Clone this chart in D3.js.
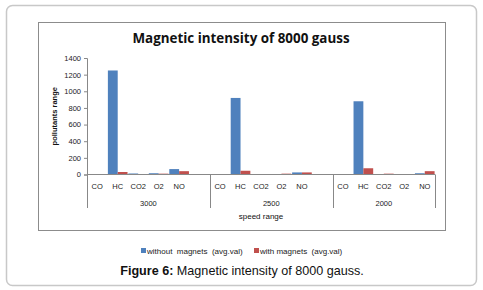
<!DOCTYPE html>
<html>
<head>
<meta charset="utf-8">
<script src="https://cdn.jsdelivr.net/npm/d3@7"></script>
<style>
  body { margin: 0; background: #fff; }
  svg text { font-family: "Liberation Sans", Arial, sans-serif; }
</style>
</head>
<body>
<div id="chart"></div>
<script>
// data
var speeds = ["3000", "2500", "2000"];
var pollutants = ["CO", "HC", "CO2", "O2", "NO"];
var withoutMagnets = [
  [0, 1250, 12, 15, 65],
  [0, 920, 0, 0, 25],
  [0, 880, 0, 0, 15]
];
var withMagnets = [
  [0, 30, 0, 10, 40],
  [0, 45, 0, 10, 25],
  [0, 75, 10, 0, 40]
];
var yTicks = [0, 200, 400, 600, 800, 1000, 1200, 1400];
var seriesNames = ["without  magnets  (avg.val)", "with magnets  (avg.val)"];
var seriesColors = ["#4F81BD", "#C0504D"];

var W = 483, H = 290;
var svg = d3.select("#chart").append("svg")
  .attr("width", W).attr("height", H);

// outer rounded frame
svg.append("rect")
  .attr("x", 6.5).attr("y", 5.5).attr("width", 470).attr("height", 280)
  .attr("rx", 6).attr("fill", "#fff").attr("stroke", "#c8c8c8").attr("stroke-width", 1.5);

// chart area border
svg.append("rect")
  .attr("x", 38.5).attr("y", 22.5).attr("width", 407).attr("height", 208)
  .attr("fill", "#fff").attr("stroke", "#8c8c8c");

svg.append("text")
  .attr("x", 241).attr("y", 43)
  .attr("text-anchor", "middle")
  .style("font-family", "'Open Sans', sans-serif")
  .style("font-weight", "bold")
  .style("font-size", "13.4px")
  .attr("fill", "#111")
  .text("Magnetic intensity of 8000 gauss");

// categories: each speed group has the 5 pollutants plus one empty slot (not the last)
var cats = [];
speeds.forEach(function(s, i) {
  pollutants.forEach(function(p, j) {
    cats.push({ key: s + "|" + p, speed: s, name: p, vals: [withoutMagnets[i][j], withMagnets[i][j]] });
  });
  if (i < speeds.length - 1) cats.push({ key: s + "|gap", speed: s, name: "", vals: [0, 0] });
});

var plotLeft = 87, plotRight = 435, plotTop = 58, plotBottom = 174.5;

var x = d3.scaleBand()
  .domain(cats.map(function(d) { return d.key; }))
  .range([plotLeft, plotRight])
  .paddingInner(0.04).paddingOuter(0.02);

var xs = d3.scaleBand()
  .domain([0, 1])
  .range([0, x.bandwidth()]);

var y = d3.scaleLinear()
  .domain([0, 1400])
  .range([plotBottom, plotTop]);

// y axis
var yAxis = svg.append("g")
  .attr("transform", "translate(" + plotLeft + ",0)")
  .call(d3.axisLeft(y).tickValues(yTicks).tickFormat(d3.format("d")).tickSize(3).tickPadding(3));
yAxis.select(".domain").attr("stroke", "#888");
yAxis.selectAll(".tick line").attr("stroke", "#888");
yAxis.selectAll("text").style("font-size", "7.5px").attr("fill", "#222");

svg.append("text")
  .attr("transform", "translate(57," + ((plotTop + plotBottom) / 2) + ") rotate(-90)")
  .attr("text-anchor", "middle")
  .style("font-weight", "bold")
  .style("font-size", "7.5px")
  .attr("fill", "#111")
  .text("pollutants range");

// bars
var groups = svg.selectAll(".cat")
  .data(cats)
  .enter().append("g")
  .attr("transform", function(d) { return "translate(" + x(d.key) + ",0)"; });

groups.selectAll("rect")
  .data(function(d) { return d.vals.map(function(v, k) { return { k: k, v: v }; }); })
  .enter().append("rect")
  .attr("x", function(d) { return xs(d.k); })
  .attr("width", xs.bandwidth())
  .attr("y", function(d) { return y(d.v); })
  .attr("height", function(d) { return plotBottom - y(d.v); })
  .attr("fill", function(d) { return seriesColors[d.k]; });

// x axis line
svg.append("line")
  .attr("x1", plotLeft).attr("x2", plotRight)
  .attr("y1", plotBottom).attr("y2", plotBottom)
  .attr("stroke", "#888");

// category labels
groups.append("text")
  .attr("x", x.bandwidth() / 2)
  .attr("y", 189)
  .attr("text-anchor", "middle")
  .style("font-size", "7.5px")
  .attr("fill", "#222")
  .text(function(d) { return d.name; });

// group dividers and labels
var groupEdges = speeds.map(function(s) {
  var keys = cats.filter(function(c) { return c.speed === s; });
  var first = x(keys[0].key) - x.step() * x.paddingInner() / 2;
  var last = x(keys[keys.length - 1].key) + x.bandwidth() + x.step() * x.paddingInner() / 2;
  return { speed: s, x0: Math.max(plotLeft, first), x1: Math.min(plotRight, last) };
});
var divX = [plotLeft].concat(groupEdges.map(function(g) { return g.x1; }));
divX[divX.length - 1] = plotRight;

svg.selectAll(".div")
  .data(divX)
  .enter().append("line")
  .attr("x1", function(d) { return Math.round(d) + 0.5; })
  .attr("x2", function(d) { return Math.round(d) + 0.5; })
  .attr("y1", plotBottom).attr("y2", 208)
  .attr("stroke", "#888");

svg.selectAll(".glab")
  .data(groupEdges)
  .enter().append("text")
  .attr("x", function(d) { return (d.x0 + d.x1) / 2; })
  .attr("y", 206)
  .attr("text-anchor", "middle")
  .style("font-size", "7.5px")
  .attr("fill", "#222")
  .text(function(d) { return d.speed; });

svg.append("text")
  .attr("x", (plotLeft + plotRight) / 2)
  .attr("y", 219)
  .attr("text-anchor", "middle")
  .style("font-size", "8px")
  .attr("fill", "#111")
  .text("speed range");

// legend
var legX = [141, 254];
var leg = svg.selectAll(".leg")
  .data(seriesNames)
  .enter().append("g")
  .attr("transform", function(d, i) { return "translate(" + legX[i] + ",248)"; });
leg.append("rect")
  .attr("width", 5).attr("height", 5)
  .attr("fill", function(d, i) { return seriesColors[i]; });
leg.append("text")
  .attr("x", 6).attr("y", 5.5)
  .style("font-size", "8px")
  .style("white-space", "pre")
  .attr("xml:space", "preserve")
  .attr("fill", "#222")
  .text(function(d) { return d; });

// caption
var cap = svg.append("text")
  .attr("x", 242).attr("y", 275)
  .attr("text-anchor", "middle")
  .style("font-size", "12.6px")
  .attr("fill", "#111");
cap.append("tspan").style("font-weight", "bold").text("Figure 6:");
cap.append("tspan").text(" Magnetic intensity of 8000 gauss.");
</script>
</body>
</html>
